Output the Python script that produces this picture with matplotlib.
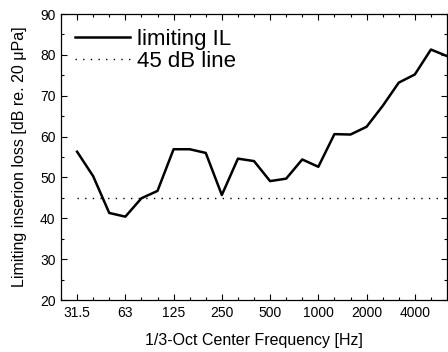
import matplotlib
matplotlib.use("Agg")
import matplotlib.pyplot as plt
from matplotlib.ticker import FixedLocator, MultipleLocator

plt.rcParams['font.family'] = ['Liberation Sans', 'DejaVu Sans']

bands = ["31.5", "40", "50", "63", "80", "100", "125", "160", "200", "250",
         "315", "400", "500", "630", "800", "1000", "1250", "1600", "2000",
         "2500", "3150", "4000", "5000", "6300"]
limiting_il = [56.3, 50.3, 41.3, 40.4, 44.9, 46.7, 56.9, 56.9, 56.0, 45.7,
               54.6, 54.0, 49.1, 49.7, 54.4, 52.6, 60.6, 60.5, 62.4, 67.5,
               73.2, 75.2, 81.3, 79.7]
line_45 = [45.0] * len(bands)
tick_labels = ["31.5", "63", "125", "250", "500", "1000", "2000", "4000"]

x = list(range(len(bands)))

fig = plt.figure(figsize=(4.48, 3.52), dpi=100)
ax = fig.add_axes([61/448, 1-300/352, 386/448, 286/352])

ax.plot(x, limiting_il, color='black', lw=1.8, label='limiting IL')
ax.plot(x, line_45, color='black', lw=1.0, linestyle=(0, (1, 4.5)), label='45 dB line')

ax.set_xlim(-1, 23)
ax.set_ylim(20, 90)

major_pos = [bands.index(t) for t in tick_labels]
ax.xaxis.set_major_locator(FixedLocator(major_pos))
ax.set_xticklabels(tick_labels)
ax.xaxis.set_minor_locator(FixedLocator([i for i in range(-1, 24) if i not in major_pos]))
ax.yaxis.set_major_locator(MultipleLocator(10))
ax.yaxis.set_minor_locator(MultipleLocator(5))

ax.tick_params(which='both', direction='in', top=True, right=True, labelsize=10, width=0.8, pad=4)
ax.tick_params(which='major', length=4)
ax.tick_params(which='minor', length=2.5)
for s in ax.spines.values():
    s.set_linewidth(0.9)

ax.set_xlabel('1/3-Oct Center Frequency [Hz]', fontsize=11.5, labelpad=10)
ax.set_ylabel('Limiting inserion loss [dB re. 20 \u03bcPa]', fontsize=11.5, labelpad=9)

leg = ax.legend(loc='upper left', bbox_to_anchor=(0.035, 0.948), frameon=False,
                fontsize=16, handlelength=2.5, handletextpad=0.3,
                labelspacing=0.05, borderpad=0, borderaxespad=0)

fig.savefig('out.png', dpi=100)
